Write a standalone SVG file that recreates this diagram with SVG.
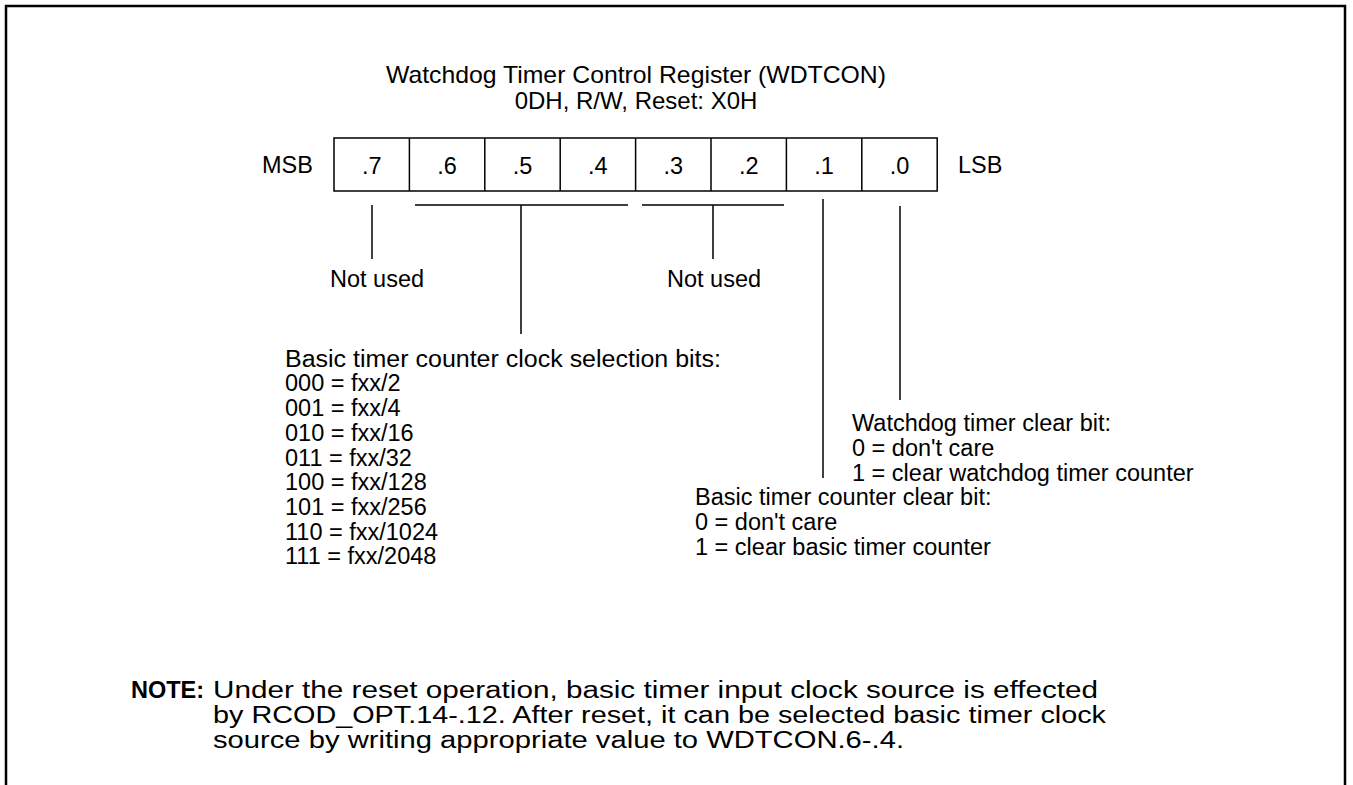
<svg xmlns="http://www.w3.org/2000/svg" width="1353" height="785" viewBox="0 0 1353 785">
<style>
text{font-family:"Liberation Sans",Arial,Helvetica,sans-serif;font-size:23.5px;fill:#000}
.c{text-anchor:middle}
.t{font-size:24px}
.b{font-weight:bold}
.ln{stroke:#000;stroke-width:1.5;fill:none}
.frame{stroke:#000;stroke-width:2.5;fill:none}
</style>
<rect width="1353" height="785" fill="#fff"/>
<path class="frame" d="M6,790 V6 H1345 V790"/>
<g id="title">
<text class="c t" x="636" y="83" textLength="500" lengthAdjust="spacingAndGlyphs">Watchdog Timer Control Register (WDTCON)</text>
<text class="c t" x="636" y="109">0DH, R/W, Reset: X0H</text>
</g>
<g id="register">
<text x="262" y="173">MSB</text>
<rect class="ln" x="334" y="138" width="603.2" height="53"/>
<path class="ln" d="M409.4,138V191M484.8,138V191M560.2,138V191M635.6,138V191M711,138V191M786.4,138V191M861.8,138V191"/>
<text class="c" x="371.7" y="174">.7</text>
<text class="c" x="447.1" y="174">.6</text>
<text class="c" x="522.5" y="174">.5</text>
<text class="c" x="597.9" y="174">.4</text>
<text class="c" x="673.3" y="174">.3</text>
<text class="c" x="748.7" y="174">.2</text>
<text class="c" x="824.1" y="174">.1</text>
<text class="c" x="899.5" y="174">.0</text>
<text x="958" y="173">LSB</text>
</g>
<g id="connectors">
<path class="ln" d="M372,205V259"/>
<path class="ln" d="M415,205H628M521,205V334"/>
<path class="ln" d="M642,205H784M713,205V259"/>
<path class="ln" d="M823,199V478"/>
<path class="ln" d="M900,206V400"/>
</g>
<g id="notused7"><text x="330" y="287">Not used</text></g>
<g id="notused32"><text x="667" y="287">Not used</text></g>
<g id="clocksel">
<text x="285" y="367" textLength="436" lengthAdjust="spacingAndGlyphs">Basic timer counter clock selection bits:</text>
<text x="285" y="391">000 = fxx/2</text>
<text x="285" y="416">001 = fxx/4</text>
<text x="285" y="441">010 = fxx/16</text>
<text x="285" y="466">011 = fxx/32</text>
<text x="285" y="490">100 = fxx/128</text>
<text x="285" y="515">101 = fxx/256</text>
<text x="285" y="540">110 = fxx/1024</text>
<text x="285" y="564">111 = fxx/2048</text>
</g>
<g id="wdtclear">
<text x="852" y="431">Watchdog timer clear bit:</text>
<text x="852" y="456">0 = don't care</text>
<text x="852" y="481">1 = clear watchdog timer counter</text>
</g>
<g id="btclear">
<text x="695" y="505">Basic timer counter clear bit:</text>
<text x="695" y="530">0 = don't care</text>
<text x="695" y="555">1 = clear basic timer counter</text>
</g>
<g id="note">
<text class="b" x="131" y="698">NOTE:</text>
<text x="213" y="698" textLength="885" lengthAdjust="spacingAndGlyphs">Under the reset operation, basic timer input clock source is effected</text>
<text x="213" y="723" textLength="893" lengthAdjust="spacingAndGlyphs">by RCOD_OPT.14-.12. After reset, it can be selected basic timer clock</text>
<text x="213" y="748" textLength="691" lengthAdjust="spacingAndGlyphs">source by writing appropriate value to WDTCON.6-.4.</text>
</g>
</svg>
